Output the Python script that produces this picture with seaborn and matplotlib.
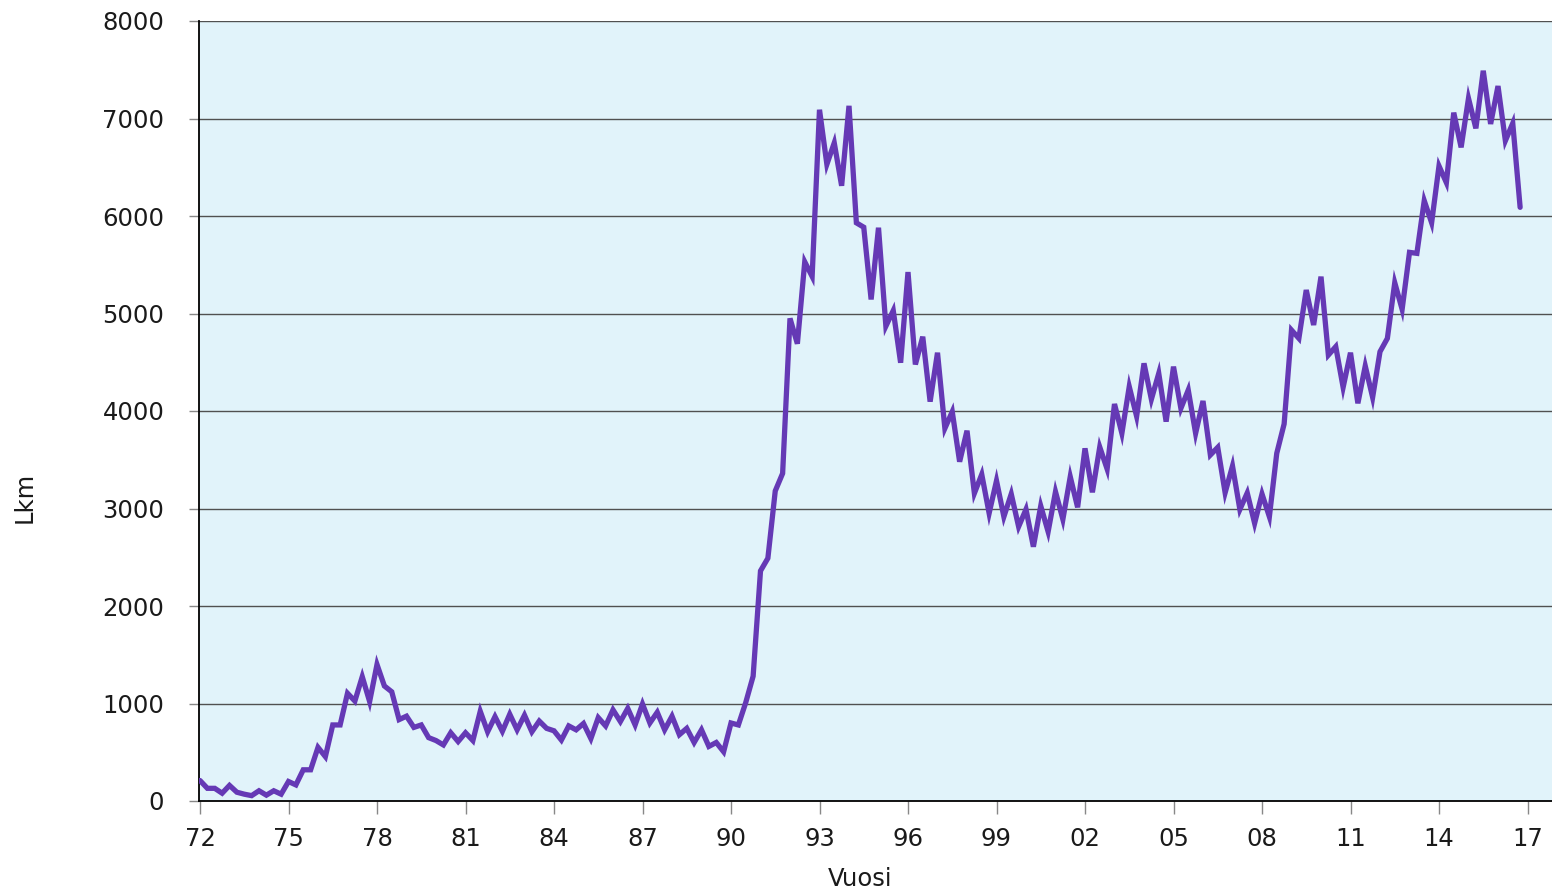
import matplotlib
matplotlib.use("Agg")
import matplotlib.pyplot as plt
import seaborn as sns
import pandas as pd
import numpy as np

# Quarterly values 1972Q1 .. 2016Q4
values = [
    210, 130, 130, 80, 160, 90, 70, 55, 105, 60, 105, 70,
    200, 165, 320, 320, 550, 455, 780, 780, 1105, 1025, 1275, 1020,
    1400, 1180, 1120, 835, 870, 755, 780, 650, 620, 575, 700, 610,
    700, 620, 920, 710, 865, 715, 890, 730, 880, 710, 820, 745,
    720, 625, 770, 730, 795, 640, 855, 770, 935, 815, 950, 780,
    995, 800, 910, 730, 870, 680, 745, 600, 730, 560, 600, 505,
    800, 780, 1010, 1280, 2360, 2490, 3180, 3360, 4950, 4690, 5530, 5380,
    7090, 6530, 6750, 6310, 7130, 5930, 5885, 5144, 5880, 4870, 5030, 4495,
    5425, 4477, 4762, 4096, 4598, 3822, 3993, 3480, 3798, 3156, 3350, 2951,
    3285, 2916, 3149, 2814, 2992, 2608, 3026, 2762, 3172, 2889, 3326, 3012,
    3617, 3166, 3630, 3405, 4072, 3771, 4250, 3945, 4489, 4120, 4386, 3891,
    4455, 4027, 4215, 3771, 4103, 3549, 3627, 3162, 3436, 2990, 3160, 2848,
    3149, 2916, 3566, 3867, 4830, 4745, 5241, 4882, 5378, 4574, 4660, 4243,
    4598, 4079, 4462, 4140, 4608, 4745, 5316, 5043, 5627, 5617, 6157, 5931,
    6513, 6342, 7060, 6704, 7207, 6899, 7490, 6944, 7333, 6772, 6951, 6089,
]
start_year = 1972
tick_years = list(range(1972, 2018, 3))
tick_labels = [f"{y % 100:02d}" for y in tick_years]
y_ticks = list(range(0, 8001, 1000))

df = pd.DataFrame({
    "t": [start_year + i / 4 for i in range(len(values))],
    "v": values,
})

sns.set_theme(style="white")
plt.rcParams["font.family"] = ["DejaVu Sans"]

W, H = 1552, 892
fig = plt.figure(figsize=(W / 100, H / 100), dpi=100)
ax = fig.add_axes([199 / W, (H - 801) / H, (W - 199) / W, (801 - 21) / H])
ax.set_facecolor("#E1F3FA")

sns.lineplot(data=df, x="t", y="v", ax=ax, color="#6539B5", linewidth=3.8,
             solid_joinstyle="miter", zorder=3)

px_per_year = 29.5
ax.set_xlim(1972 - 1 / px_per_year, 1972 + (W - 200) / px_per_year)
ax.set_ylim(0, 8000)
ax.set_yticks(y_ticks)
ax.set_yticklabels([str(v) for v in y_ticks], fontsize=17.5, color="#1a1a1a")
ax.set_xticks(tick_years)
ax.set_xticklabels(tick_labels, fontsize=17.5, color="#1a1a1a")

for v in y_ticks[1:]:
    ax.axhline(v, color="#505050", linewidth=1.0, zorder=1)

for s in ["top", "right"]:
    ax.spines[s].set_visible(False)
ax.spines["left"].set_color("black")
ax.spines["bottom"].set_color("black")
ax.spines["left"].set_linewidth(1.3)
ax.spines["bottom"].set_linewidth(1.3)

ax.tick_params(axis="y", direction="out", length=7, width=1, color="#888888", pad=18, left=True)
ax.tick_params(axis="x", direction="out", length=9, width=1, color="#888888", pad=10, bottom=True)

ax.set_xlabel("")
ax.set_ylabel("")
fig.text(25 / W, 1 - 497 / H, "Lkm", rotation=90, ha="center", va="center", fontsize=17.5, color="#1a1a1a")
fig.text(860 / W, 1 - 879 / H, "Vuosi", ha="center", va="center", fontsize=17.5, color="#1a1a1a")

fig.savefig("out.png", dpi=100)
